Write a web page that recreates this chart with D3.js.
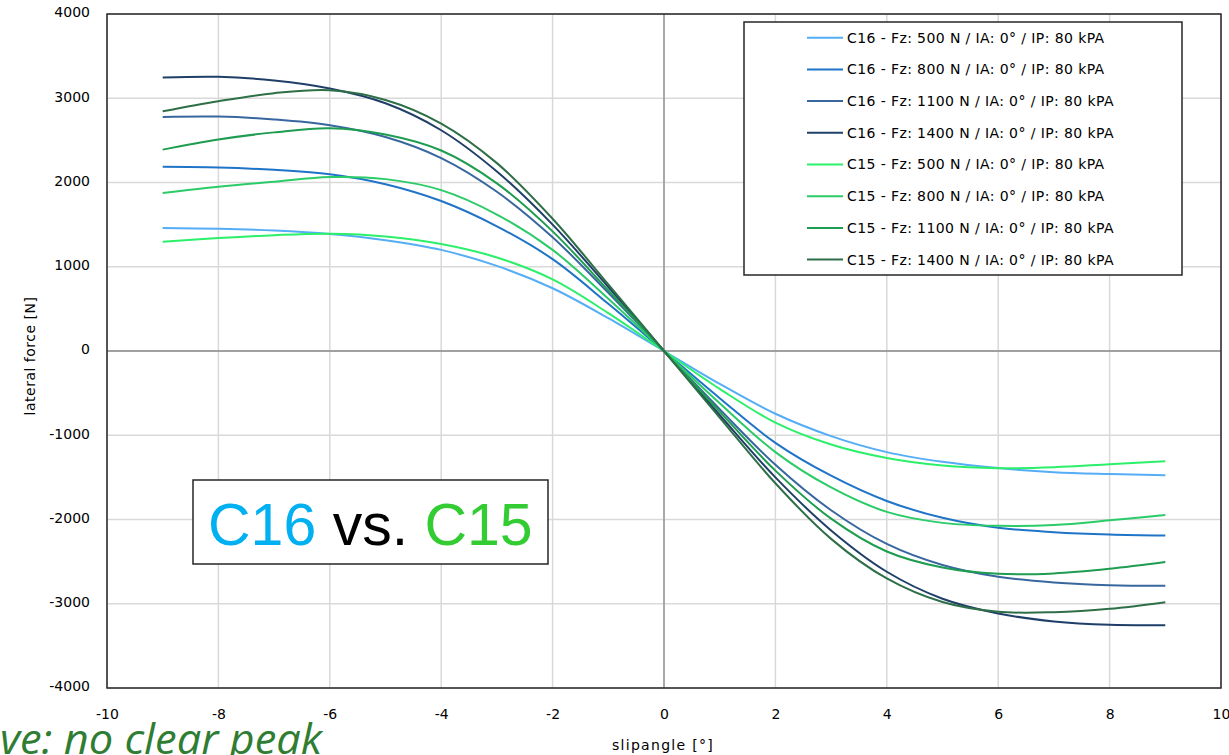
<!DOCTYPE html>
<html>
<head>
<meta charset="utf-8">
<script src="https://cdn.jsdelivr.net/npm/d3@7"></script>
<style>
  body { margin: 0; background: #fff; }
  svg { display: block; }
  .tick text { font-family: "DejaVu Sans", Verdana, sans-serif; font-size: 14px; fill: #000; }
</style>
</head>
<body>
<div id="chart"></div>
<script>
// slip angle [deg] sampled along each curve
var slip = [-9, -8, -7, -6, -5, -4, -3, -2, -1, 0, 1, 2, 3, 4, 5, 6, 7, 8, 9];

// lateral force [N]
var c16_500  = [1460, 1450, 1430, 1390, 1315, 1200, 1010, 745, 390, 0, -390, -745, -1010, -1200, -1315, -1390, -1438, -1460, -1475];
var c16_800  = [2186, 2178, 2150, 2098, 1980, 1780, 1480, 1090, 560, 0, -560, -1090, -1480, -1780, -1980, -2098, -2150, -2178, -2190];
var c16_1100 = [2778, 2782, 2748, 2680, 2540, 2290, 1890, 1350, 690, 0, -690, -1350, -1890, -2290, -2540, -2680, -2748, -2780, -2786];
var c16_1400 = [3245, 3255, 3210, 3115, 2940, 2620, 2130, 1500, 760, 0, -760, -1500, -2130, -2620, -2940, -3115, -3210, -3250, -3255];
var c15_500  = [1296, 1340, 1375, 1392, 1360, 1270, 1110, 850, 450, 0, -450, -850, -1110, -1270, -1360, -1392, -1380, -1345, -1310];
var c15_800  = [1875, 1950, 2010, 2065, 2040, 1910, 1620, 1200, 620, 0, -620, -1200, -1620, -1910, -2040, -2075, -2065, -2010, -1946];
var c15_1100 = [2390, 2510, 2595, 2645, 2570, 2380, 1990, 1420, 720, 0, -720, -1420, -1990, -2380, -2570, -2645, -2640, -2585, -2505];
var c15_1400 = [2845, 2965, 3060, 3095, 2980, 2700, 2230, 1570, 790, 0, -790, -1570, -2230, -2700, -2980, -3095, -3100, -3060, -2981];

var seriesNames = [
  "C16 - Fz: 500 N / IA: 0° / IP: 80 kPA",
  "C16 - Fz: 800 N / IA: 0° / IP: 80 kPA",
  "C16 - Fz: 1100 N / IA: 0° / IP: 80 kPA",
  "C16 - Fz: 1400 N / IA: 0° / IP: 80 kPA",
  "C15 - Fz: 500 N / IA: 0° / IP: 80 kPA",
  "C15 - Fz: 800 N / IA: 0° / IP: 80 kPA",
  "C15 - Fz: 1100 N / IA: 0° / IP: 80 kPA",
  "C15 - Fz: 1400 N / IA: 0° / IP: 80 kPA"
];
var seriesValues = [c16_500, c16_800, c16_1100, c16_1400, c15_500, c15_800, c15_1100, c15_1400];
var colors = ["#55aef5", "#1f74c8", "#3867a0", "#1f3f68", "#2cef6a", "#2bcb68", "#1e9c50", "#2e6f48"];

var xTicks = [-10, -8, -6, -4, -2, 0, 2, 4, 6, 8, 10];
var yTicks = [-4000, -3000, -2000, -1000, 0, 1000, 2000, 3000, 4000];

var width = 1229, height = 755;
var plotLeft = 107, plotRight = 1221, plotTop = 14, plotBottom = 688;

var x = d3.scaleLinear().domain([-10, 10]).range([plotLeft, plotRight]);
var y = d3.scaleLinear().domain([-4000, 4000]).range([plotBottom, plotTop]);

var svg = d3.select("#chart").append("svg")
  .attr("width", width)
  .attr("height", height);

// grid
svg.append("g").selectAll("line").data(xTicks).enter().append("line")
  .attr("x1", function (d) { return x(d); })
  .attr("x2", function (d) { return x(d); })
  .attr("y1", plotTop).attr("y2", plotBottom)
  .attr("stroke", "#d9d9d9").attr("stroke-width", 1.5);
svg.append("g").selectAll("line").data(yTicks).enter().append("line")
  .attr("x1", plotLeft).attr("x2", plotRight)
  .attr("y1", function (d) { return y(d); })
  .attr("y2", function (d) { return y(d); })
  .attr("stroke", "#d9d9d9").attr("stroke-width", 1.5);

// zero lines
svg.append("line").attr("x1", x(0)).attr("x2", x(0)).attr("y1", plotTop).attr("y2", plotBottom)
  .attr("stroke", "#8a8a8a").attr("stroke-width", 1.3);
svg.append("line").attr("x1", plotLeft).attr("x2", plotRight).attr("y1", y(0)).attr("y2", y(0))
  .attr("stroke", "#8a8a8a").attr("stroke-width", 1.3);

// plot border
svg.append("rect")
  .attr("x", plotLeft).attr("y", plotTop)
  .attr("width", plotRight - plotLeft).attr("height", plotBottom - plotTop)
  .attr("fill", "none").attr("stroke", "#262626").attr("stroke-width", 1.5);

// axes (labels only)
var xAxis = svg.append("g")
  .attr("transform", "translate(0," + plotBottom + ")")
  .call(d3.axisBottom(x).tickValues(xTicks).tickSize(0).tickPadding(21)
    .tickFormat(function (d) { return String(d); }));
xAxis.select(".domain").remove();

var yAxis = svg.append("g")
  .attr("transform", "translate(" + plotLeft + ",0)")
  .call(d3.axisLeft(y).tickValues(yTicks).tickSize(0).tickPadding(17)
    .tickFormat(function (d) { return String(d); }));
yAxis.select(".domain").remove();
yAxis.selectAll("text").attr("dy", "0.2em");

svg.append("text")
  .attr("transform", "translate(35,356) rotate(-90)")
  .attr("text-anchor", "middle")
  .style("font-family", "DejaVu Sans, Verdana, sans-serif")
  .style("font-size", "14px")
  .style("letter-spacing", "0.5px")
  .text("lateral force [N]");

svg.append("text")
  .attr("x", 663).attr("y", 750)
  .attr("text-anchor", "middle")
  .style("font-family", "DejaVu Sans, Verdana, sans-serif")
  .style("font-size", "14px")
  .style("letter-spacing", "1.3px")
  .text("slipangle [°]");

// curves
var line = d3.line()
  .x(function (d) { return x(d[0]); })
  .y(function (d) { return y(d[1]); })
  .curve(d3.curveCatmullRom.alpha(0.5));

svg.append("g").selectAll("path").data(seriesValues).enter().append("path")
  .attr("d", function (vals) {
    return line(vals.map(function (v, i) { return [slip[i], v]; }));
  })
  .attr("fill", "none")
  .attr("stroke", function (d, i) { return colors[i]; })
  .attr("stroke-width", 2);

// legend
var legend = svg.append("g");
legend.append("rect")
  .attr("x", 744).attr("y", 22).attr("width", 438).attr("height", 253)
  .attr("fill", "#fff").attr("stroke", "#262626").attr("stroke-width", 1.5);
var rows = legend.selectAll("g.row").data(seriesNames).enter().append("g")
  .attr("class", "row")
  .attr("transform", function (d, i) { return "translate(0," + (37.7 + i * 31.7) + ")"; });
rows.append("line")
  .attr("x1", 807).attr("x2", 843)
  .attr("stroke", function (d, i) { return colors[i]; })
  .attr("stroke-width", 2);
rows.append("text")
  .attr("x", 847).attr("dy", "0.35em")
  .style("font-family", "DejaVu Sans, Verdana, sans-serif")
  .style("font-size", "14px")
  .style("letter-spacing", "0.4px")
  .text(function (d) { return d; });

// C16 vs. C15 box
svg.append("rect")
  .attr("x", 193).attr("y", 480).attr("width", 355).attr("height", 84)
  .attr("fill", "#fff").attr("stroke", "#262626").attr("stroke-width", 1.5);
var big = svg.append("text")
  .attr("x", 208).attr("y", 545)
  .style("font-family", "Liberation Sans, Arial, sans-serif")
  .style("font-size", "59px");
big.append("tspan").attr("fill", "#00b0f0").text("C16");
big.append("tspan").attr("fill", "#000").text(" vs. ");
big.append("tspan").attr("fill", "#33cc33").text("C15");

// clipped note at the bottom left
svg.append("text")
  .attr("x", 0).attr("y", 754)
  .attr("textLength", 322).attr("lengthAdjust", "spacingAndGlyphs")
  .style("font-family", "Open Sans, Noto Sans, sans-serif")
  .style("font-style", "italic")
  .style("font-size", "42px")
  .attr("fill", "#2e7d32")
  .text("ve: no clear peak");
</script>
</body>
</html>
